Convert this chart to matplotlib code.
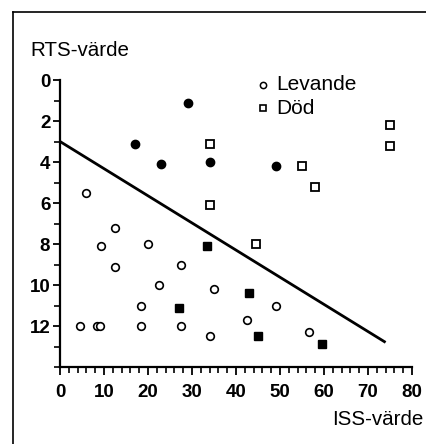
import matplotlib
matplotlib.use("Agg")
import matplotlib.pyplot as plt
from matplotlib.lines import Line2D
from matplotlib.ticker import MultipleLocator

plt.rcParams['font.family'] = ['Liberation Sans', 'DejaVu Sans']

# Levande (open circles)
alive_iss = [6, 12.5, 9.3, 20, 12.5, 27.5, 22.5, 18.5, 4.5, 8.3, 9.2, 18.5, 27.5, 34, 35, 49, 42.5, 56.5]
alive_rts = [5.5, 7.2, 8.1, 8, 9.1, 9, 10, 11, 12, 12, 12, 12, 12, 12.5, 10.2, 11, 11.7, 12.3]
# Död (open squares)
dead_iss = [34, 34, 75, 75, 55, 58, 44.5]
dead_rts = [3.1, 6.1, 2.2, 3.2, 4.2, 5.2, 8]
# filled circles
fcirc_iss = [29, 17, 23, 34, 49]
fcirc_rts = [1.1, 3.1, 4.1, 4, 4.2]
# filled squares
fsq_iss = [33.5, 27, 43, 45, 59.5]
fsq_rts = [8.1, 11.1, 10.4, 12.5, 12.9]
# line
line_iss = [0, 74]
line_rts = [3, 12.8]

fig = plt.figure(figsize=(4.26, 4.44), dpi=100)
ax = fig.add_axes([60/426, 1 - 367/444, 352/426, 287/444])

ax.plot(line_iss, line_rts, color='black', lw=2.0, solid_capstyle='butt')
ax.plot(alive_iss, alive_rts, 'o', ms=5.5, mfc='white', mec='black', mew=1.2, ls='none')
ax.plot(dead_iss, dead_rts, 's', ms=5.5, mfc='white', mec='black', mew=1.3, ls='none')
ax.plot(fcirc_iss, fcirc_rts, 'o', ms=6, mfc='black', mec='black', ls='none')
ax.plot(fsq_iss, fsq_rts, 's', ms=5.5, mfc='black', mec='black', ls='none')

ax.set_xlim(0, 80)
ax.set_ylim(14, 0)
for s in ['top', 'right']:
    ax.spines[s].set_visible(False)
for s in ['left', 'bottom']:
    ax.spines[s].set_linewidth(1.6)

ax.set_xticks([0, 10, 20, 30, 40, 50, 60, 70, 80])
ax.xaxis.set_minor_locator(MultipleLocator(2))
ax.set_yticks([0, 2, 4, 6, 8, 10, 12])
ax.yaxis.set_minor_locator(MultipleLocator(1))
ax.tick_params(which='major', direction='out', length=5, width=1.3, labelsize=13.5, pad=2)
ax.tick_params(which='minor', direction='out', length=4, width=1.2)
ax.tick_params(axis='x', which='major', length=6, pad=6)
for lab in ax.get_xticklabels() + ax.get_yticklabels():
    lab.set_fontweight('bold')

fig.text(30/426, 1 - 50/444, 'RTS-värde', fontsize=14.8, ha='left', va='center')
fig.text(423/426, 1 - 419/444, 'ISS-värde', fontsize=14.8, ha='right', va='center')

# legend
fig.add_artist(Line2D([263/426], [1 - 85/444], marker='o', ms=4.5, mfc='white', mec='black', mew=1.1))
fig.text(276/426, 1 - 85/444, 'Levande', fontsize=15, ha='left', va='center')
fig.add_artist(Line2D([263/426], [1 - 108/444], marker='s', ms=5, mfc='white', mec='black', mew=1.2))
fig.text(276/426, 1 - 108/444, 'Död', fontsize=15, ha='left', va='center')

# frame
fig.add_artist(Line2D([13/426, 1.0], [1 - 12/444, 1 - 12/444], color='black', lw=1.2))
fig.add_artist(Line2D([13/426, 13/426], [0.0, 1 - 12/444], color='black', lw=1.2))

fig.savefig('out.png', dpi=100)
